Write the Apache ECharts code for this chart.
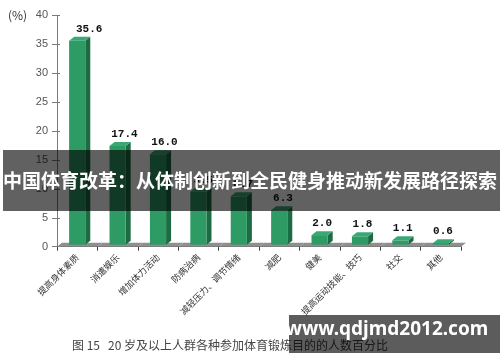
<!DOCTYPE html>
<html>
<head>
<meta charset="utf-8">
<script src="https://cdn.jsdelivr.net/npm/echarts@6/dist/echarts.min.js"></script>
<style>html,body{margin:0;padding:0;background:#fff;}#c{width:500px;height:362px;}</style>
</head>
<body>
<div id="c"></div>
<script>
const categories = ['提高身体素质','消遣娱乐','增加体力活动','防病治病','减轻压力、调节情绪','减肥','健美','提高运动技能、技巧','社交','其他'];
const values = [35.6, 17.4, 16.0, 9.5, 8.7, 6.3, 2.0, 1.8, 1.1, 0.6];
const yMin = 0, yMax = 40, yInterval = 5;
const unitLabel = '(%)';
const bannerText = '中国体育改革：从体制创新到全民健身推动新发展路径探索';
const captionText = '图 15   20 岁及以上人群各种参加体育锻炼目的的人数百分比';
const watermarkText = 'www.qdjmd2012.com';

const D = 5, E = 4;
const chart = echarts.init(document.getElementById('c'), null, {renderer: 'canvas'});

function renderFloor(params, api) {
  const i = api.value(0);
  const base = api.coord([i, 0]);
  const band = api.size([1, 0])[0];
  const xl = base[0] - band / 2, xr = base[0] + band / 2, y = base[1];
  return {
    type: 'polygon',
    shape: {points: [[xl, y], [xr, y], [xr + D, y - E], [xl + D, y - E]]},
    style: {fill: '#8f8f8f'}
  };
}

function renderBar(params, api) {
  const i = api.value(0), v = api.value(1);
  const top = api.coord([i, v]);
  const base = api.coord([i, 0]);
  const band = api.size([1, 0])[0];
  const bw = band * 0.4;
  const x0 = top[0] - bw / 2, x1 = top[0] + bw / 2;
  const yt = top[1], yb = base[1] - 2;
  return {
    type: 'group',
    children: [
      {type: 'polygon', shape: {points: [[x1, yt], [x1 + D, yt - E], [x1 + D, yb - E], [x1, yb]]}, style: {fill: '#1c6b43'}},
      {type: 'polygon', shape: {points: [[x0, yt], [x0 + D, yt - E], [x1 + D, yt - E], [x1, yt]]}, style: {fill: '#3aa874'}},
      {type: 'rect', shape: {x: x0, y: yt, width: bw, height: yb - yt}, style: {fill: '#2e9a64'}},
      {type: 'text', x: top[0] + 2 + v * 0.28, y: yt - 12,
       style: {text: v.toFixed(1), fill: '#111', font: 'bold 11px "Liberation Mono", monospace', align: 'center', verticalAlign: 'middle'}}
    ]
  };
}

const data = values.map((v, i) => [i, v]);

chart.setOption({
  animation: false,
  grid: {left: 57, right: 39, top: 15.3, bottom: 115.3, containLabel: false},
  xAxis: {
    type: 'category', data: categories, boundaryGap: true,
    axisLine: {lineStyle: {color: '#444', width: 1}},
    axisTick: {show: true, length: 4, lineStyle: {color: '#444'}},
    axisLabel: {rotate: 45, fontSize: 9, color: '#333', margin: 9, interval: 0, fontFamily: '"Noto Sans CJK SC", sans-serif'}
  },
  yAxis: [{
    type: 'value', min: yMin, max: yMax, interval: yInterval,
    axisLine: {show: true, lineStyle: {color: '#7a7a7a'}},
    axisTick: {show: true, length: 5, lineStyle: {color: '#7a7a7a'}},
    axisLabel: {fontSize: 11, color: '#555', margin: 9, fontFamily: '"Liberation Sans", sans-serif'},
    splitLine: {show: false}
  }, {
    type: 'value', min: yMin, max: yMax, interval: yInterval, position: 'left',
    axisLine: {show: false},
    axisTick: {show: true, inside: true, length: 3, lineStyle: {color: '#7a7a7a'}},
    axisLabel: {show: false}, splitLine: {show: false}
  }],
  series: [
    {type: 'custom', renderItem: renderFloor, data: data, z: 1, encode: {x: 0, y: 1}},
    {type: 'custom', renderItem: renderBar, data: data, z: 3, encode: {x: 0, y: 1}}
  ],
  graphic: [
    {type: 'text', left: 8, top: 9, z: 10, style: {text: unitLabel, font: '12px "Noto Sans CJK SC", sans-serif', fill: '#333'}},
    {type: 'rect', shape: {x: 3, y: 150, width: 497, height: 61}, style: {fill: 'rgba(0,0,0,0.62)'}, z: 100},
    {type: 'text', x: 250, y: 181, z: 101, style: {text: bannerText, font: 'bold 19px "Noto Sans CJK SC", sans-serif', fill: '#fff', align: 'center', verticalAlign: 'middle'}},
    {type: 'text', x: 72, y: 345, z: 100, style: {text: captionText, font: '12px "Noto Sans CJK SC", sans-serif', fill: '#444', verticalAlign: 'middle'}},
    {type: 'rect', shape: {x: 289, y: 315, width: 211, height: 38}, style: {fill: 'rgba(0,0,0,0.64)'}, z: 102},
    {type: 'text', x: 387, y: 330, z: 103, style: {text: watermarkText, font: 'bold 19px "Noto Sans", sans-serif', fill: '#fff', align: 'center', verticalAlign: 'middle'}}
  ]
});
</script>
</body>
</html>
